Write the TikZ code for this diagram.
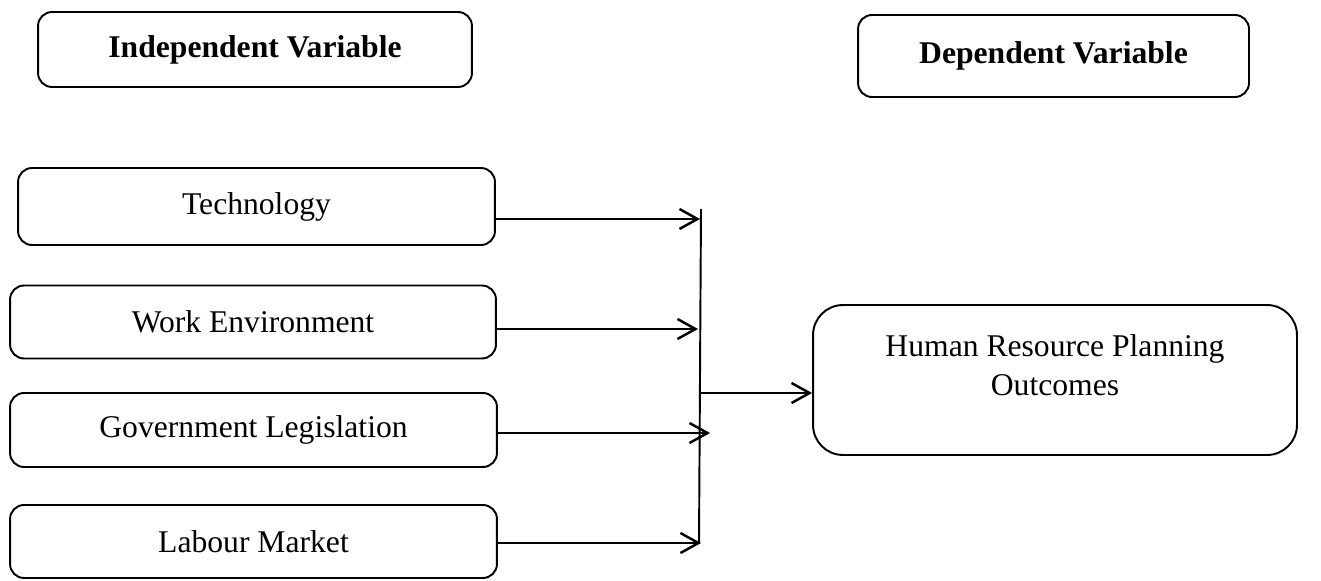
\documentclass[tikz,border=0pt]{standalone}
\usepackage{fontspec}
\setmainfont{Liberation Serif}
\usetikzlibrary{arrows.meta}

\begin{document}
\begin{tikzpicture}[x=0.02cm, y=-0.02cm, line width=1.1pt,
    box/.style={draw, rounded corners=0.28cm, align=center, font=\fontsize{18}{22}\selectfont},
    head/.style={box, font=\fontsize{18}{22}\selectfont\bfseries},
    arr/.style={line width=1.4pt, -{Straight Barb[length=0.36cm, width=0.4cm]}}]
            \useasboundingbox (0,0) rectangle (1321,581);
            \node[head, minimum width=8.68cm, minimum height=1.5cm] (indep) at (255,49.5) {Independent Variable};
            \node[head, minimum width=7.82cm, minimum height=1.64cm] (dep) at (1053.5,56) {Dependent Variable};
            \node[box, minimum width=9.54cm, minimum height=1.54cm] (tech) at (256.5,206.5) {Technology};
            \node[box, minimum width=9.72cm, minimum height=1.46cm] (work) at (253,322) {Work Environment};
            \node[box, minimum width=9.74cm, minimum height=1.48cm] (gov) at (253.5,430) {Government Legislation};
            \node[box, minimum width=9.74cm, minimum height=1.46cm] (labour) at (253.5,541.5) {Labour Market};
            \node[box, rounded corners=0.6cm, minimum width=9.68cm, minimum height=3cm, text depth=0.6cm] (hrp) at (1055,380) {Human Resource Planning\\Outcomes};
            \coordinate (bustop) at (701,209); \coordinate (busbot) at (699,543);
            \coordinate (t1) at (700,219); \coordinate (w1) at (698,329);
            \coordinate (g1) at (710,433); \coordinate (l1) at (701,543);
            \coordinate (busmid) at (700,393);
            \draw (bustop) -- (busbot);
            \draw[arr] (tech.east |- t1) -- (t1);
            \draw[arr] (work.east |- w1) -- (w1);
            \draw[arr] (gov.east |- g1) -- (g1);
            \draw[arr] (labour.east |- l1) -- (l1);
            \draw[arr] (busmid) -- (hrp.west |- busmid);
        \end{tikzpicture}
\end{document}
